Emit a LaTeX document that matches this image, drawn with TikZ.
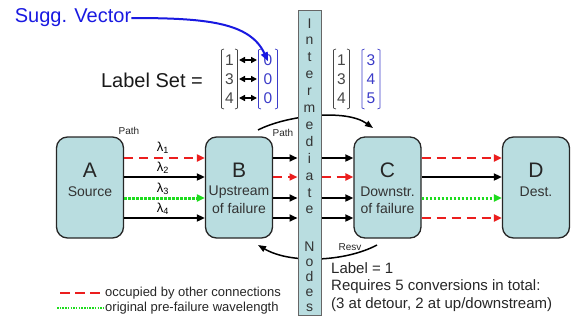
\documentclass[tikz,border=0pt]{standalone}
\usepackage{fontspec}
\setmainfont{Liberation Sans}
\usetikzlibrary{arrows.meta}
\definecolor{boxfill}{RGB}{185,221,224}
\definecolor{dgrey}{RGB}{70,70,70}
\definecolor{vblue}{RGB}{60,60,200}
\definecolor{sblue}{RGB}{25,25,225}
\definecolor{dred}{RGB}{235,30,30}
\definecolor{dgreen}{RGB}{30,220,30}
\newcommand\fsz[1]{\fontsize{#1}{#1}\selectfont}
\begin{document}
\begin{tikzpicture}[x=1pt,y=-1pt,
  box/.style={draw=black!85, line width=1.3pt, fill=boxfill, rounded corners=11pt,
    minimum width=67pt, minimum height=101pt, inner sep=0pt},
  blk/.style={draw=black, line width=1.8pt, -{Triangle[length=8pt,width=7pt]}},
  occ/.style={draw=dred, line width=2.5pt, dash pattern=on 9pt off 6pt, -{Triangle[length=8pt,width=7pt]}},
  orig/.style={draw=dgreen, line width=3pt, dash pattern=on 2.5pt off 1.5pt, -{Triangle[length=8pt,width=7pt]}},
  big/.style={font=\fsz{21}, text=black!85, inner sep=0pt},
  sub/.style={font=\fsz{14}, text=black!80, inner sep=0pt},
  lam/.style={font=\fsz{13}, inner sep=0pt},
  tiny/.style={font=\fsz{10}, text=black!85, inner sep=0pt},
  num/.style={font=\fsz{15.5}, inner sep=0pt},
  brk/.style={line width=0.7pt, line join=round},
  curve/.style={draw=black, line width=1.5pt, -{Triangle[length=8pt,width=6pt]}},
  letter/.style={font=\fsz{14}, text=black!80, anchor=base, inner sep=0pt},
  txt/.style={font=\fsz{15}, text=black!85, anchor=west, inner sep=0pt},
  leg/.style={font=\fsz{13}, text=black!85, anchor=west, inner sep=0pt}
]
\useasboundingbox (0,0) rectangle (580,325);

% row coordinates
\coordinate (r1) at (0,158);
\coordinate (r2) at (0,177);
\coordinate (r3) at (0,198);
\coordinate (r4) at (0,218);

% boxes
\node[box] (A) at (90,187.5) {};
\node[box] (B) at (239,187.5) {};
\node[box] (C) at (387.5,187.5) {};
\node[box] (D) at (536,187.5) {};

\node[big] (At) at (90,170) {A};
\node[sub] (As) at (90,192) {Source};
\node[big] (Bt) at (239,170) {B};
\node[sub] (Bs) at (239,192) {Upstream};
\node[sub] (Bs2) at (239,208) {of failure};
\node[big] (Ct) at (387.5,170) {C};
\node[sub] (Cs) at (387.5,192) {Downstr.};
\node[sub] (Cs2) at (387.5,208) {of failure};
\node[big] (Dt) at (536,170) {D};
\node[sub] (Ds) at (536,192) {Dest.};

% curved arcs (behind the bar)
\coordinate (p1) at (258,130);
\coordinate (p2) at (373,128);
\draw[curve] (p1) .. controls (285,116) and (345,108) .. (p2);
\coordinate (q1) at (377,245);
\coordinate (q2) at (258,245);
\draw[curve] (q1) .. controls (345,262) and (290,264) .. (q2);

% intermediate bar
\node[draw=black!60, line width=1pt, fill=boxfill, minimum width=23pt, minimum height=305pt, inner sep=0pt] (bar) at (309.5,162.5) {};
\foreach \l [count=\i from 0] in {I,n,t,e,r,m,e,d,i,a,t,e}
  \node[letter] (w1-\i) at (309.5,{28+16.9*\i}) {\l};
\foreach \l [count=\i from 0] in {N,o,d,e,s}
  \node[letter] (w2-\i) at (309.5,{251+15*\i}) {\l};

% connectors A -> B
\draw[occ]  (A.east |- r1) -- (B.west |- r1);
\draw[blk]  (A.east |- r2) -- (B.west |- r2);
\draw[orig] (A.east |- r3) -- (B.west |- r3);
\draw[blk]  (A.east |- r4) -- (B.west |- r4);
% B -> bar
\draw[blk] (B.east |- r1) -- (bar.west |- r1);
\draw[occ] (B.east |- r2) -- (bar.west |- r2);
\draw[blk] (B.east |- r3) -- (bar.west |- r3);
\draw[blk] (B.east |- r4) -- (bar.west |- r4);
% bar -> C
\draw[blk] (bar.east |- r1) -- (C.west |- r1);
\draw[occ] (bar.east |- r2) -- (C.west |- r2);
\draw[blk] (bar.east |- r3) -- (C.west |- r3);
\draw[blk] (bar.east |- r4) -- (C.west |- r4);
% C -> D
\draw[occ]  (C.east |- r1) -- (D.west |- r1);
\draw[blk]  (C.east |- r2) -- (D.west |- r2);
\draw[orig] (C.east |- r3) -- (D.west |- r3);
\draw[occ]  (C.east |- r4) -- (D.west |- r4);

% lambda labels
\node[lam] (l1) at (163,148) {λ\textsubscript{1}};
\node[lam] (l2) at (163,168) {λ\textsubscript{2}};
\node[lam] (l3) at (163,189) {λ\textsubscript{3}};
\node[lam] (l4) at (163,209) {λ\textsubscript{4}};

% small labels
\node[tiny] (pa) at (129,131) {Path};
\node[tiny] (pb) at (283,133) {Path};
\node[tiny] (rs) at (350,247) {Resv};

% top: label set
\node[font=\fsz{20}, text=black!90, inner sep=0pt] (ls) at (152,80) {Label Set =};
\foreach \v [count=\i] in {1,3,4} \node[num, text=dgrey] (g\i) at (229.5,{41+19*\i}) {\v};
\foreach \v [count=\i] in {0,0,0} \node[num, text=vblue] (b\i) at (268,{41+19*\i}) {\v};
\foreach \v [count=\i] in {1,3,4} \node[num, text=dgrey] (h\i) at (341.5,{41+19*\i}) {\v};
\foreach \v [count=\i] in {3,4,5} \node[num, text=vblue] (c\i) at (371,{41+19*\i}) {\v};
% brackets
\draw[brk, dgrey] (224,49) -- (221.5,50) -- (221.5,108) -- (224,109);
\draw[brk, dgrey] (235,49) -- (237.5,50) -- (237.5,108) -- (235,109);
\draw[brk, vblue] (261,49) -- (258.5,50) -- (258.5,108) -- (261,109);
\draw[brk, vblue] (275,49) -- (277.5,50) -- (277.5,108) -- (275,109);
\draw[brk, dgrey] (336,49) -- (333.5,50) -- (333.5,108) -- (336,109);
\draw[brk, dgrey] (347,49) -- (349.5,50) -- (349.5,108) -- (347,109);
\draw[brk, vblue] (364.5,49) -- (362,50) -- (362,108) -- (364.5,109);
\draw[brk, vblue] (377.5,49) -- (380,50) -- (380,108) -- (377.5,109);
% double arrows
\foreach \i in {1,2,3}
  \draw[line width=1.4pt, {Triangle[length=6pt,width=6pt]}-{Triangle[length=6pt,width=6pt]}]
    ([xshift=9.5pt]g\i.center) -- ([xshift=-11pt]b\i.center);

% suggestion vector
\node[font=\fsz{20}, text=sblue, inner sep=0pt] (sv) at (73,18) {Sugg. Vector};
\draw[draw=sblue, line width=2pt, -{Triangle[length=9pt,width=7pt]}]
  (sv.east) .. controls (205,18) and (250,22) .. ([yshift=-7pt]b1.north);

% legend
\coordinate (la) at (60,293);
\coordinate (lb) at (57,308);
\node[leg] (lt1) at (105,293) {occupied by other connections};
\node[leg] (lt2) at (105,308) {original pre-failure wavelength};
\draw[draw=dred, line width=2pt, dash pattern=on 10pt off 5pt] (la) -- (lt1.west);
\draw[draw=dgreen, line width=2pt, dash pattern=on 1.5pt off 1.2pt] (lb) -- (lt2.west);

% notes
\node[txt] (n1) at (331,268) {Label = 1};
\node[txt] (n2) at (331,287) {Requires 5 conversions in total:};
\node[txt] (n3) at (331,305) {(3 at detour, 2 at up/downstream)};
\end{tikzpicture}
\end{document}
